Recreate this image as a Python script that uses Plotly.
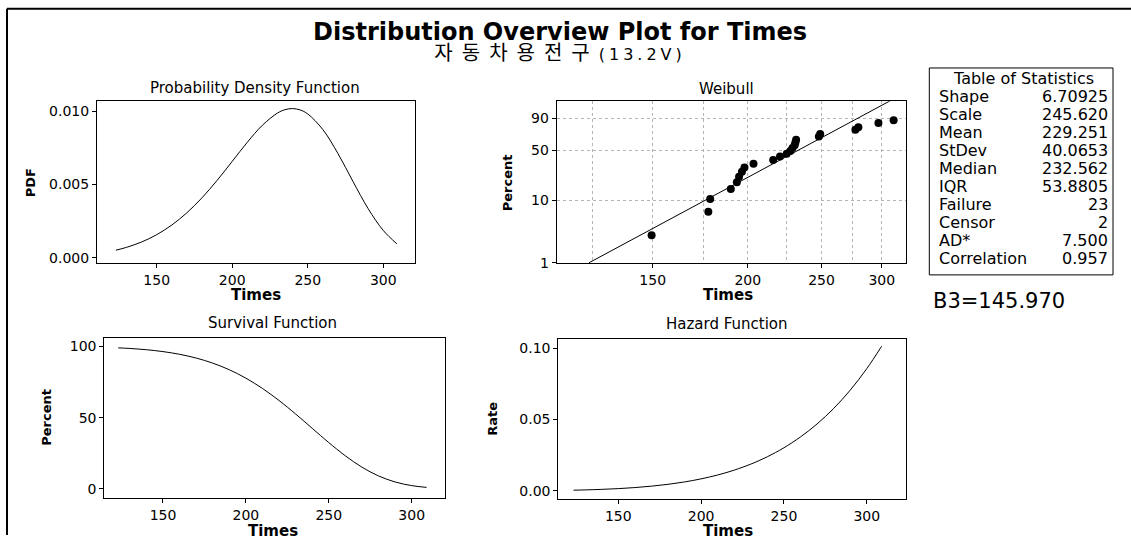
import numpy as np
import plotly.graph_objects as go

# ---------------- data ----------------
curve_times = [123, 130, 140, 150, 160, 170, 180, 190, 200, 210, 220, 230, 235, 240, 245,
               250, 260, 270, 280, 290, 300, 309]
pdf_values = [0.000522, 0.000713, 0.001078, 0.001576, 0.002234, 0.003071, 0.004091, 0.005275,
              0.006570, 0.007873, 0.009034, 0.009863, 0.010092, 0.010167, 0.010074, 0.009801,
              0.008737, 0.007106, 0.005191, 0.003348, 0.001866, 0.000954]
survival_values = [99.04, 98.61, 97.72, 96.41, 94.52, 91.88, 88.31, 83.65, 77.73, 70.50, 62.03,
                   52.55, 47.55, 42.48, 37.42, 32.44, 23.12, 15.16, 9.00, 4.75, 2.18, 0.94]
hazard_values = [0.000527, 0.000723, 0.001103, 0.001635, 0.002364, 0.003342, 0.004632, 0.006306,
                 0.008452, 0.011167, 0.014563, 0.018770, 0.021224, 0.023934, 0.026924, 0.030215,
                 0.037798, 0.046885, 0.057706, 0.070506, 0.085563, 0.101290]

fail_times = [149.5, 177.5, 178.5, 190, 193.5, 194.8, 196.5, 198, 203.5, 216, 220.5, 225,
              227.5, 229, 230.5, 231, 231.5, 248, 249, 277, 279.5, 297, 311]
fail_percent = [2.8, 6.6, 10.5, 14.9, 18.8, 22.6, 26.5, 30.3, 34.0, 38.2, 42.0, 45.5,
                49.0, 53.0, 56.5, 60.5, 64.0, 68.5, 72.0, 77.5, 80.5, 85.3, 88.2]
fit_times = [123.7, 310.5]
fit_percent = [1.0, 99.1]

time_ticks = [150, 200, 250, 300]
weibull_grid_minor = [125, 175, 225, 275]
percent_ticks = [1, 10, 50, 90]

stat_labels = ["Shape", "Scale", "Mean", "StDev", "Median", "IQR", "Failure", "Censor", "AD*", "Correlation"]
stat_values = ["6.70925", "245.620", "229.251", "40.0653", "232.562", "53.8805", "23", "2", "7.500", "0.957"]

title_text = "Distribution Overview Plot for Times"
subtitle_main = "자동차용전구"
subtitle_tail = "(13.2V)"
b3_text = "B3=145.970"

# ---------------- helpers ----------------
W, H = 1131, 543
FONT = "DejaVu Sans"


def px(x):
    return x / W


def py(y):
    return 1 - y / H


def wb(p):
    p = np.asarray(p, dtype=float) / 100.0
    return np.log(-np.log(1 - p))


fig = go.Figure()

line_style = dict(color="black", width=1)
fig.add_trace(go.Scatter(x=curve_times, y=pdf_values, mode="lines", line=line_style,
                         line_shape="spline", xaxis="x", yaxis="y", showlegend=False))
fig.add_trace(go.Scatter(x=fit_times, y=wb(fit_percent), mode="lines", line=line_style,
                         xaxis="x2", yaxis="y2", showlegend=False, cliponaxis=True))
fig.add_trace(go.Scatter(x=fail_times, y=wb(fail_percent), mode="markers",
                         marker=dict(color="black", size=8), xaxis="x2", yaxis="y2",
                         showlegend=False))
fig.add_trace(go.Scatter(x=curve_times, y=survival_values, mode="lines", line=line_style,
                         line_shape="spline", xaxis="x3", yaxis="y3", showlegend=False))
fig.add_trace(go.Scatter(x=curve_times, y=hazard_values, mode="lines", line=line_style,
                         line_shape="spline", xaxis="x4", yaxis="y4", showlegend=False))

common = dict(showline=True, linecolor="black", linewidth=1, mirror=True, ticks="outside",
              ticklen=4, tickcolor="black", showgrid=False, zeroline=False,
              tickfont=dict(family=FONT, size=14, color="black"))

GRIDC = "#b4b4b4"
grid = dict(showgrid=True, gridcolor=GRIDC, griddash="dot", gridwidth=1)

fig.update_layout(
    width=W, height=H, margin=dict(l=0, r=0, t=0, b=0),
    paper_bgcolor="white", plot_bgcolor="white", showlegend=False,
    xaxis=dict(common, domain=[px(97), px(415)], range=[110.5, 321], tickmode="array",
               tickvals=time_ticks, anchor="y"),
    yaxis=dict(common, domain=[py(267), py(103)], range=[-0.000356, 0.01065], tickmode="array",
               tickvals=[0, 0.005, 0.010], ticktext=["0.000", "0.005", "0.010"], anchor="x"),
    xaxis2=dict(common, **grid, type="log", domain=[px(556.7), px(906)], range=[2.0499, 2.509],
                tickmode="array", tickvals=time_ticks, ticktext=[str(t) for t in time_ticks],
                anchor="y2",
                minor=dict(tickmode="array", tickvals=weibull_grid_minor, showgrid=True,
                           gridcolor=GRIDC, griddash="dot", ticks="")),
    yaxis2=dict(common, **grid, domain=[py(267), py(102.7)], range=[-4.611, 1.475],
                tickmode="array", tickvals=list(wb(percent_ticks)),
                ticktext=[str(p) for p in percent_ticks], anchor="x2"),
    xaxis3=dict(common, domain=[px(104.3), px(445)], range=[114.6, 320.1], tickmode="array",
                tickvals=time_ticks, anchor="y3"),
    yaxis3=dict(common, domain=[py(505.7), py(343.3)], range=[-6.7, 105.8], tickmode="array",
                tickvals=[0, 50, 100], anchor="x3"),
    xaxis4=dict(common, domain=[px(558.3), px(906)], range=[113.8, 323.7], tickmode="array",
                tickvals=time_ticks, anchor="y4"),
    yaxis4=dict(common, domain=[py(506.7), py(344)], range=[-0.0058, 0.1064], tickmode="array",
                tickvals=[0, 0.05, 0.10], ticktext=["0.00", "0.05", "0.10"], anchor="x4"),
)

ann = []


def text(x, y, s, size=13, bold=False, xanchor="center", yanchor="middle", angle=0, family=FONT):
    ann.append(dict(x=px(x), y=py(y), xref="paper", yref="paper", text=(f"<b>{s}</b>" if bold else s),
                    showarrow=False, xanchor=xanchor, yanchor=yanchor, textangle=angle,
                    font=dict(family=family, size=size, color="black")))


# title + subtitle in a single text block (small base size -> tight line spacing)
ann.append(dict(
    x=px(560), y=py(43), xref="paper", yref="paper", showarrow=False,
    xanchor="center", yanchor="middle",
    text=(f"<span style='font-family:DejaVu Sans;font-size:24px'><b>{title_text}</b></span><br>"
          f"<span style='font-family:Noto Sans CJK KR;font-size:20px;letter-spacing:9px'>{subtitle_main}</span>"
          f"<span style='font-family:DejaVu Sans;font-size:16px;letter-spacing:4px'>{subtitle_tail}</span>"),
    font=dict(family=FONT, size=15, color="black")))

# panel titles
text(255, 89, "Probability Density Function", size=15)
text(726, 90, "Weibull", size=15)
text(272, 328, "Survival Function", size=15)
text(727, 329, "Hazard Function", size=15)

# axis titles
text(256, 299, "Times", size=15, bold=True)
text(728, 299, "Times", size=15, bold=True)
text(273, 539, "Times", size=15, bold=True)
text(728, 539, "Times", size=15, bold=True)
text(30, 186, "PDF", size=13, bold=True, angle=-90)
text(507, 186, "Percent", size=13, bold=True, angle=-90)
text(47, 424, "Percent", size=13, bold=True, angle=-90)
text(493, 425, "Rate", size=13, bold=True, angle=-90)

# statistics table
text(1023, 80, "Table of Statistics", size=16)
for i, (lab, val) in enumerate(zip(stat_labels, stat_values)):
    yy = 97.7 + i * 18.33
    text(937, yy, lab, size=16, xanchor="left")
    text(1110, yy, val, size=16, xanchor="right")
text(931, 306, b3_text, size=21, xanchor="left")

fig.update_layout(annotations=ann)

shapes = [
    dict(type="rect", xref="paper", yref="paper", x0=px(929.3), x1=px(1113), y0=py(279), y1=py(69),
         line=dict(color="black", width=1)),
    dict(type="line", xref="paper", yref="paper", x0=px(7), x1=px(1131), y0=py(9), y1=py(9),
         line=dict(color="black", width=2)),
    dict(type="line", xref="paper", yref="paper", x0=px(7), x1=px(7), y0=py(9), y1=py(543),
         line=dict(color="black", width=2)),
]
fig.update_layout(shapes=shapes)

fig.write_html("out.html", config={"displayModeBar": False},
               post_script="document.body.style.margin='0';document.body.style.overflow='hidden';")
